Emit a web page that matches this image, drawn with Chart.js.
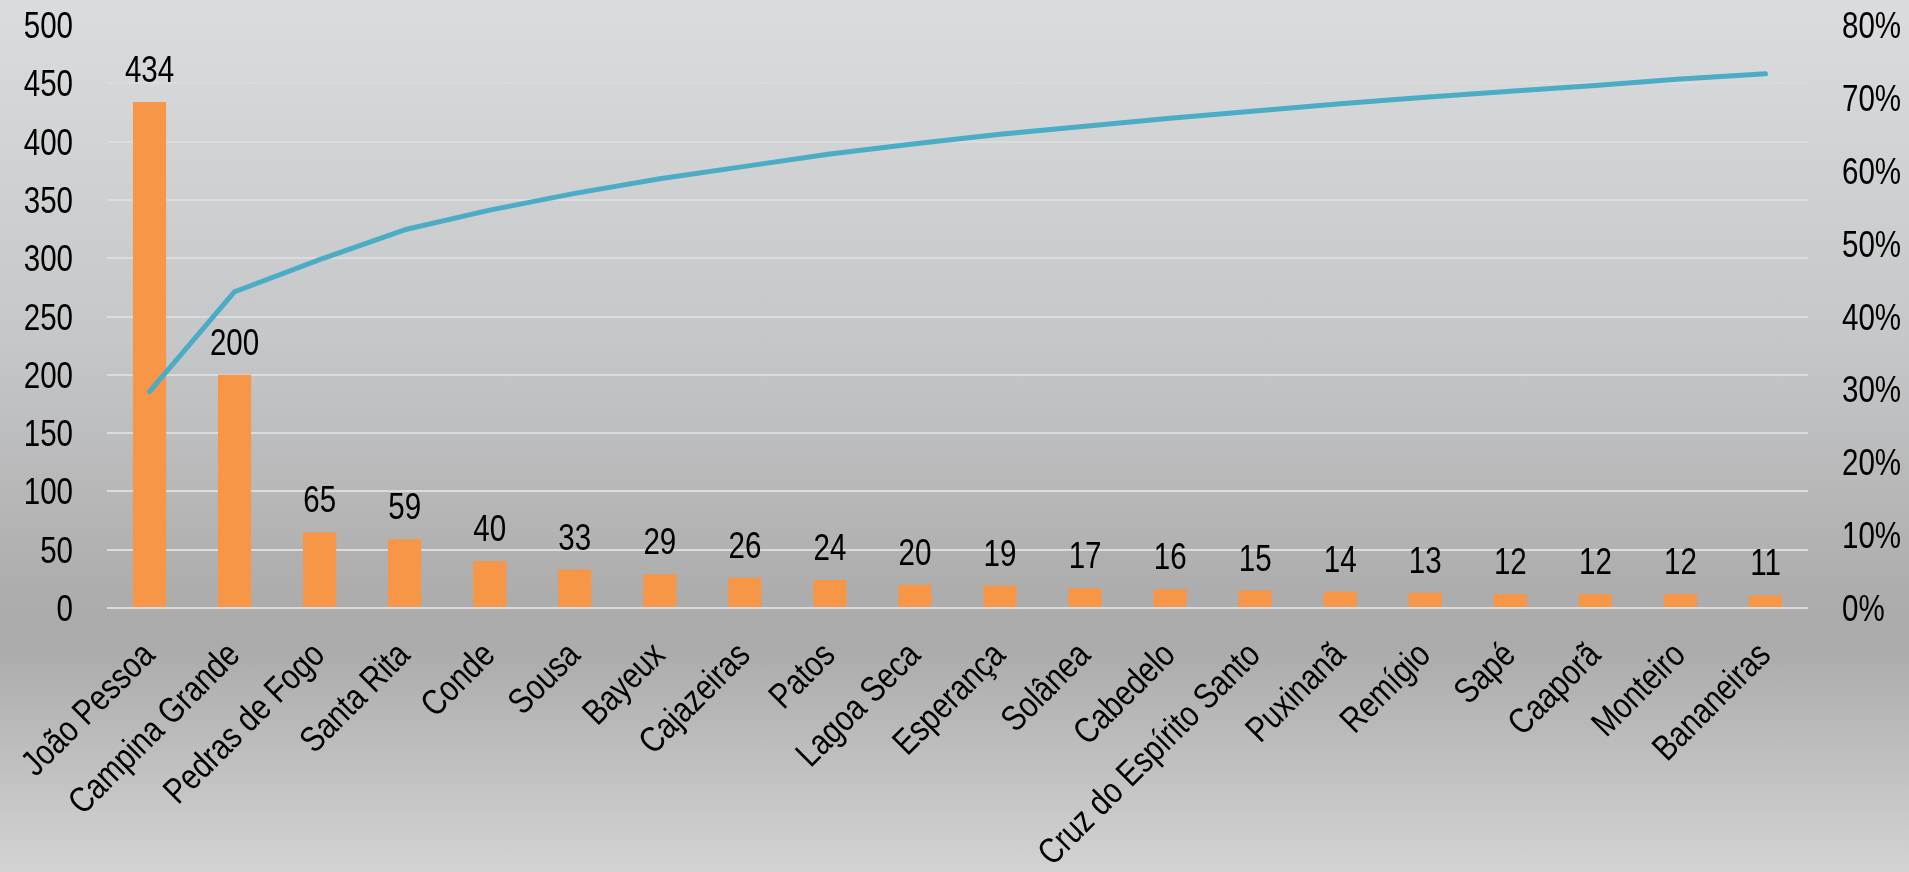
<!DOCTYPE html>
<html>
<head>
<meta charset="utf-8">
<script src="https://cdn.jsdelivr.net/npm/chart.js@4.4.1/dist/chart.umd.min.js"></script>
<style>
  html, body { margin: 0; padding: 0; }
  body { width: 1909px; height: 872px; overflow: hidden;
    background: linear-gradient(to bottom, #dbdcde 0%, #c5c6c8 40%, #adadad 68%, #ababab 74%, #d3d3d3 100%); }
  #wrap { position: relative; width: 1909px; height: 872px; }
</style>
</head>
<body>
<div id="wrap"><canvas id="c" width="1909" height="872"></canvas></div>
<script>
const categories = ["João Pessoa", "Campina Grande", "Pedras de Fogo", "Santa Rita", "Conde", "Sousa", "Bayeux", "Cajazeiras", "Patos", "Lagoa Seca", "Esperança", "Solânea", "Cabedelo", "Cruz do Espírito Santo", "Puxinanã", "Remígio", "Sapé", "Caaporã", "Monteiro", "Bananeiras"];
const counts = [434, 200, 65, 59, 40, 33, 29, 26, 24, 20, 19, 17, 16, 15, 14, 13, 12, 12, 12, 11];
const cumulativePct = [29.7, 43.4, 47.8, 51.9, 54.6, 56.9, 58.9, 60.6, 62.3, 63.7, 65.0, 66.1, 67.2, 68.2, 69.2, 70.1, 70.9, 71.7, 72.6, 73.3];
const leftTicks = [0, 50, 100, 150, 200, 250, 300, 350, 400, 450, 500];
const rightTicks = [0, 10, 20, 30, 40, 50, 60, 70, 80];

const FONT = "'Liberation Sans', Arial, sans-serif";
const FONT_SIZE = 36;
const NARROW = 0.82;   // horizontal condensing to imitate a narrow face

function narrowText(ctx, text, x, y, align, baseline, angle) {
  ctx.save();
  ctx.translate(x, y);
  if (angle) ctx.rotate(angle);
  ctx.scale(NARROW, 1);
  ctx.textAlign = align;
  ctx.textBaseline = baseline;
  ctx.fillText(text, 0, 0);
  ctx.restore();
}

const textLayer = {
  id: 'textLayer',
  afterDraw(chart) {
    const ctx = chart.ctx;
    const ys = chart.scales.y, y1 = chart.scales.y1, xs = chart.scales.x;
    const area = chart.chartArea;
    ctx.save();
    ctx.font = FONT_SIZE + 'px ' + FONT;
    ctx.fillStyle = '#000000';
    // left axis labels
    leftTicks.forEach(v => {
      narrowText(ctx, String(v), area.left - 34, ys.getPixelForValue(v) + 13, 'right', 'alphabetic');
    });
    // right axis labels
    rightTicks.forEach(v => {
      narrowText(ctx, v + '%', area.right + 34, y1.getPixelForValue(v) + 13, 'left', 'alphabetic');
    });
    // bar value labels
    const meta = chart.getDatasetMeta(1);
    meta.data.forEach((el, i) => {
      narrowText(ctx, String(counts[i]), el.x, el.y - 20, 'center', 'alphabetic');
    });
    // category labels, rotated 45 degrees
    categories.forEach((c, i) => {
      const x = xs.getPixelForValue(i);
      narrowText(ctx, c, x, area.bottom + 42, 'right', 'middle', -Math.PI / 4);
    });
    ctx.restore();
  }
};

new Chart(document.getElementById('c'), {
  data: {
    labels: categories,
    datasets: [
      {
        type: 'line',
        data: cumulativePct,
        yAxisID: 'y1',
        borderColor: '#4bacc6',
        borderWidth: 5,
        borderCapStyle: 'round',
        borderJoinStyle: 'round',
        pointRadius: 0,
        tension: 0,
        order: 0
      },
      {
        type: 'bar',
        data: counts,
        yAxisID: 'y',
        backgroundColor: '#f79646',
        barPercentage: 0.39,
        categoryPercentage: 1.0,
        order: 1
      }
    ]
  },
  options: {
    responsive: false,
    animation: false,
    layout: { padding: { top: 25, left: 0, right: 0, bottom: 0 } },
    plugins: { legend: { display: false }, tooltip: { enabled: false } },
    scales: {
      x: {
        grid: { display: false, drawTicks: false },
        border: { display: false },
        ticks: { color: 'rgba(0,0,0,0)', autoSkip: false, maxRotation: 0, minRotation: 0 },
        afterFit(s) { s.height = 264; s.paddingLeft = 0; s.paddingRight = 0; }
      },
      y: {
        position: 'left',
        min: 0, max: 500,
        afterBuildTicks(s) { s.ticks = leftTicks.map(v => ({ value: v })); },
        grid: {
          drawTicks: false,
          lineWidth: 2,
          color: ctx => (ctx.tick && ctx.tick.value === 500) ? 'rgba(0,0,0,0)' : '#dcdcdc'
        },
        border: { display: false },
        ticks: { color: 'rgba(0,0,0,0)' },
        afterFit(s) { s.width = 107; s.paddingTop = 0; s.paddingBottom = 0; }
      },
      y1: {
        position: 'right',
        min: 0, max: 80,
        afterBuildTicks(s) { s.ticks = rightTicks.map(v => ({ value: v })); },
        grid: { display: false, drawTicks: false },
        border: { display: false },
        ticks: { color: 'rgba(0,0,0,0)' },
        afterFit(s) { s.width = 101; s.paddingTop = 0; s.paddingBottom = 0; }
      }
    }
  },
  plugins: [textLayer]
});
</script>
</body>
</html>
